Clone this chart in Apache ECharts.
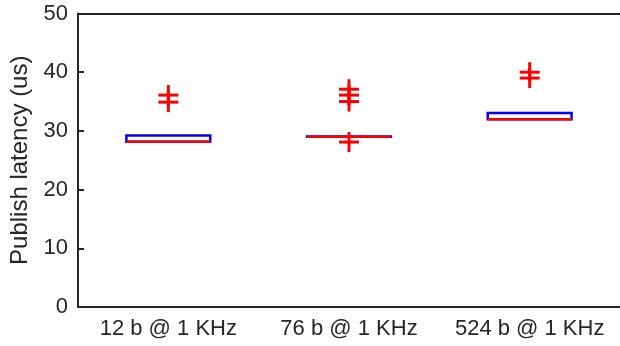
<!DOCTYPE html>
<html>
<head>
<meta charset="utf-8">
<script src="https://cdn.jsdelivr.net/npm/echarts@6/dist/echarts.min.js"></script>
<style>html,body{margin:0;padding:0;background:#fff}#c{width:620px;height:346px}</style>
</head>
<body>
<div id="c"></div>
<script>
var categories = ['12 b @ 1 KHz', '76 b @ 1 KHz', '524 b @ 1 KHz'];
var q1 = [28.15, 29.0, 32.0];
var medians = [28.15, 29.0, 32.0];
var q3 = [29.2, 29.05, 33.05];
var outliers12 = [36.1, 34.9];
var outliers76 = [37.1, 36.1, 35.0, 28.1];
var outliers524 = [40.0, 39.0];
var yTicks = [0, 10, 20, 30, 40, 50];

var boxData = categories.map(function (c, i) { return [i, q1[i], medians[i], q3[i]]; });
var outData = [];
[outliers12, outliers76, outliers524].forEach(function (arr, i) {
  arr.forEach(function (v) { outData.push([i, v]); });
});

var textColor = '#262626';
var chart = echarts.init(document.getElementById('c'));
chart.setOption({
  animation: false,
  grid: { left: 78, right: -4, top: 13.5, bottom: 39, containLabel: false },
  xAxis: [{
    type: 'category', data: categories, boundaryGap: true,
    axisLine: { lineStyle: { color: textColor, width: 2 } },
    axisTick: { inside: true, alignWithLabel: true, interval: 0, length: 6, lineStyle: { color: textColor, width: 2 } },
    axisLabel: { color: textColor, fontSize: 22, fontFamily: 'Liberation Sans', margin: 11, interval: 0, hideOverlap: false },
    splitLine: { show: false }
  }, {
    type: 'category', data: categories, boundaryGap: true, position: 'top',
    axisLine: { lineStyle: { color: textColor, width: 2 } },
    axisTick: { inside: true, alignWithLabel: true, interval: 0, length: 6, lineStyle: { color: textColor, width: 2 } },
    axisLabel: { show: false }, splitLine: { show: false }
  }],
  yAxis: {
    type: 'value', min: 0, max: 50, interval: 10,
    name: 'Publish latency (us)', nameLocation: 'middle', nameRotate: 90, nameGap: 46,
    nameTextStyle: { color: textColor, fontSize: 24, fontFamily: 'Liberation Sans' },
    axisLine: { show: true, lineStyle: { color: textColor, width: 2 } },
    axisTick: { show: true, inside: true, length: 6, lineStyle: { color: textColor, width: 2 } },
    axisLabel: { color: textColor, fontSize: 22, fontFamily: 'Liberation Sans', margin: 10,
      formatter: function (v) { return yTicks.indexOf(v) >= 0 ? String(v) : ''; } },
    splitLine: { show: false }
  },
  series: [{
    type: 'custom', xAxisIndex: 0, data: boxData, clip: false,
    renderItem: function (params, api) {
      var idx = api.value(0);
      var bw = api.size([1, 0])[0] * 0.232;
      var c = api.coord([idx, api.value(1)]);
      var pMed = api.coord([idx, api.value(2)]);
      var pTop = api.coord([idx, api.value(3)]);
      var x = c[0];
      return {
        type: 'group',
        children: [{
          type: 'rect',
          shape: { x: x - bw, y: pTop[1], width: 2 * bw, height: c[1] - pTop[1] },
          style: { fill: null, stroke: '#0000ff', lineWidth: 2.5 }
        }, {
          type: 'line',
          shape: { x1: x - bw, y1: pMed[1], x2: x + bw, y2: pMed[1] },
          style: { stroke: '#ff0000', lineWidth: 2.5 }
        }]
      };
    }
  }, {
    type: 'custom', xAxisIndex: 0, data: outData, clip: false,
    renderItem: function (params, api) {
      var p = api.coord([api.value(0), api.value(1)]);
      var h = 10;
      return {
        type: 'group',
        children: [{
          type: 'line', shape: { x1: p[0] - h, y1: p[1], x2: p[0] + h, y2: p[1] },
          style: { stroke: '#ff0000', lineWidth: 3 }
        }, {
          type: 'line', shape: { x1: p[0], y1: p[1] - h, x2: p[0], y2: p[1] + h },
          style: { stroke: '#ff0000', lineWidth: 3 }
        }]
      };
    }
  }]
});
</script>
</body>
</html>
